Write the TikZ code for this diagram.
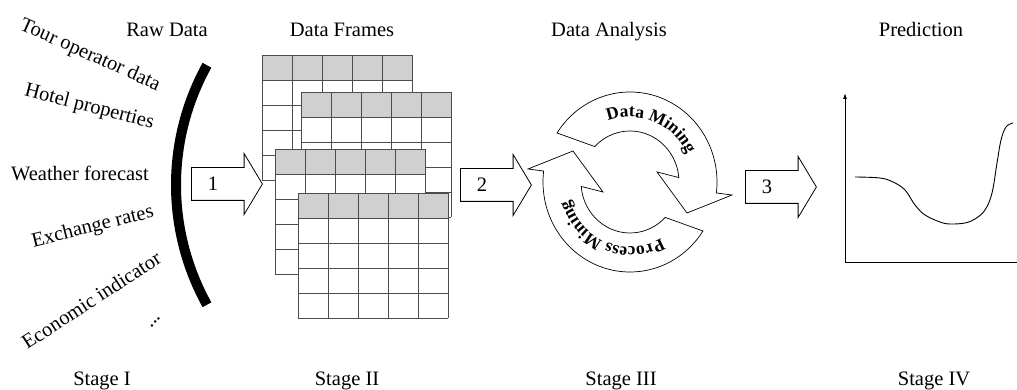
\documentclass[tikz,border=0pt]{standalone}
\usepackage{fontspec}
\setmainfont{Liberation Serif}
\usetikzlibrary{arrows.meta,shapes.arrows,decorations.text,calc}
\definecolor{headgray}{RGB}{208,208,208}
\tikzset{
    heading/.style={anchor=base, inner sep=0pt},
    blockarrow/.style={single arrow, draw=black, fill=white, line width=0.8pt, anchor=tail,
        minimum height=71pt, inner sep=0pt, inner ysep=16pt,
        single arrow head extend=14pt, single arrow tip angle=118},
    gridline/.style={draw=black!70, line width=0.9pt},
    ring/.style={draw=black, fill=white, line width=0.7pt},
    ringtext/.style={decorate, decoration={text along path, text align=center,
        text={|\fontsize{17.5}{17.5}\selectfont\bfseries|#1}}},
    curve/.style={line width=0.9pt}
}
% one data frame, top left corner at (#1,#2)
\newcommand{\dataframe}[2]{%
  \begin{scope}[shift={(#1,#2)}]
    \fill[white] (0,0) rectangle (150,-125);
    \fill[headgray] (0,0) rectangle (150,-25);
    \draw[gridline, xstep=30, ystep=25] (0,0) grid (150,-125);
  \end{scope}}

\begin{document}
\begin{tikzpicture}[x=1pt, y=1pt, font=\fontsize{20.5}{24}\selectfont]
    \useasboundingbox (0,0) rectangle (1017,390);

    % headings and stages
    \node[heading] (rawhead) at (167,353) {Raw Data};
    \node[heading] (framehead) at (342,353) {Data Frames};
    \node[heading] (analysishead) at (609,353) {Data Analysis};
    \node[heading] (predhead) at (921,353) {Prediction};
    \node[heading] (stage1) at (102,4) {Stage I};
    \node[heading] (stage2) at (347,4) {Stage II};
    \node[heading] (stage3) at (621,4) {Stage III};
    \node[heading] (stage4) at (934,4) {Stage IV};

    % raw data sources
    \node[heading, rotate=-24] (tour) at (88,330) {Tour operator data};
    \node[heading, rotate=-14.5] (hotel) at (88,278) {Hotel properties};
    \node[heading] (weather) at (80,209) {Weather forecast};
    \node[heading, rotate=14] (exchange) at (94,158) {Exchange rates};
    \node[heading, rotate=33] (economic) at (95,84) {Economic indicator};
    \node[heading, rotate=50] (more) at (156,67) {...};
    \draw[line width=10pt] ($(423,205)+(151:247)$) arc[start angle=151, end angle=209, radius=247];

    % stage arrows
    \node[blockarrow] (arr1) at (191,206) {};
    \node (lab1) at ([xshift=22]arr1.tail) {1};
    \node[blockarrow] (arr2) at (460,205) {};
    \node (lab2) at ([xshift=22]arr2.tail) {2};
    \node[blockarrow] (arr3) at (745,203) {};
    \node (lab3) at ([xshift=22]arr3.tail) {3};

    % data frames
    \dataframe{262}{335}
    \dataframe{301}{298}
    \dataframe{275}{241}
    \dataframe{298}{197}

    % analysis cycle
    \begin{scope}[shift={(630,208)}]
      \draw[ring] (147:87 and 90) arc[start angle=147, end angle=-7, x radius=87, y radius=90]
        -- (102,-13) -- (57,-31) -- (27,10) -- (5:49 and 51)
        arc[start angle=5, end angle=136, x radius=49, y radius=51] -- cycle;
      \path[ringtext={Data Mining}] (158:63 and 65) arc[start angle=158, end angle=-22, x radius=63, y radius=65];
    \end{scope}
    \begin{scope}[shift={(630,208)}, rotate=180]
      \draw[ring] (147:87 and 90) arc[start angle=147, end angle=-7, x radius=87, y radius=90]
        -- (102,-13) -- (57,-31) -- (27,10) -- (5:49 and 51)
        arc[start angle=5, end angle=136, x radius=49, y radius=51] -- cycle;
      \path[ringtext={Process Mining}] (158:63 and 65) arc[start angle=158, end angle=-22, x radius=63, y radius=65];
    \end{scope}

    % prediction plot
    \coordinate (origin) at (845,128);
    \coordinate (ytop) at (845,297);
    \coordinate (xend) at (1017,128);
    \draw[curve, -{Latex[length=6pt, width=4pt]}] (origin) -- (ytop);
    \draw[curve] (origin) -- (xend);
    \draw[curve] plot[smooth, tension=0.6] coordinates {(855,213) (880,212) (893,208) (905,200)
      (915,185) (925,175) (940,168) (950,166) (965,167) (975,171) (985,180) (992,197)
      (997,227) (1001,250) (1006,263) (1013,267)};
\end{tikzpicture}
\end{document}
